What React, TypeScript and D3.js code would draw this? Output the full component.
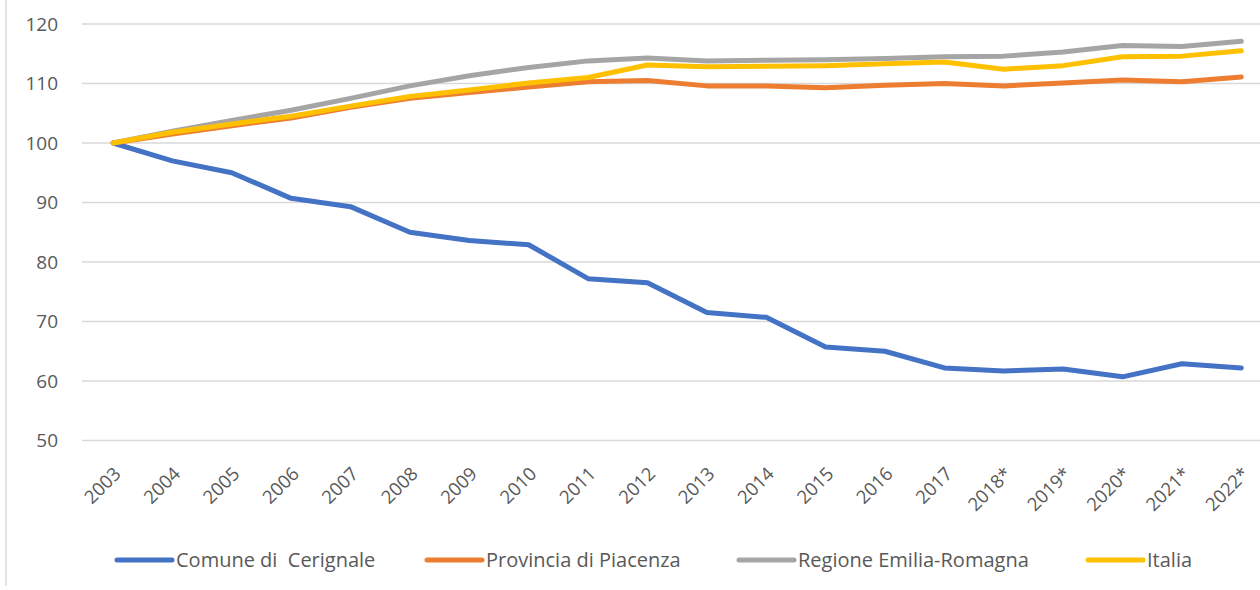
import React from "react";
import * as d3 from "d3";

const years = ["2003","2004","2005","2006","2007","2008","2009","2010","2011","2012","2013","2014","2015","2016","2017","2018*","2019*","2020*","2021*","2022*"];
const cerignale = [100,97.0,95.0,90.7,89.3,85.0,83.6,82.9,77.2,76.5,71.5,70.7,65.7,65.0,62.2,61.7,62.0,60.7,62.9,62.2];
const piacenza = [100,101.5,102.9,104.2,106.0,107.5,108.5,109.4,110.3,110.5,109.6,109.6,109.3,109.7,110.0,109.6,110.1,110.6,110.3,111.1];
const emilia = [100,102.0,103.8,105.5,107.5,109.6,111.3,112.7,113.8,114.3,113.8,113.9,114.0,114.2,114.5,114.6,115.3,116.4,116.2,117.1];
const italia = [100,101.8,103.2,104.5,106.2,107.8,108.9,110.1,111.0,113.1,112.8,112.9,113.0,113.3,113.6,112.4,113.0,114.5,114.6,115.5];
const yTicks = [50,60,70,80,90,100,110,120];

const seriesNames = ["Comune di  Cerignale","Provincia di Piacenza","Regione Emilia-Romagna","Italia"];
const seriesColors = ["#4472C4","#ED7D31","#A5A5A5","#FFC000"];
const seriesData = [cerignale, piacenza, emilia, italia];

const W = 1260, H = 590;
const font = "'Open Sans', sans-serif";

export default function App() {
  const x = d3.scaleBand<string>().domain(years).range([83.3, 1271]);
  const y = d3.scaleLinear().domain([50, 120]).range([440.5, 24]);
  const line = d3.line<number>()
    .x((_, i) => (x(years[i]) as number) + x.bandwidth() / 2)
    .y((d) => y(d));
  const legendX = [117, 427, 739, 1088];
  return (
    <svg width={W} height={H} style={{ position: "absolute", left: 0, top: 0, background: "#fff" }}>
      <line x1={6} x2={6} y1={0} y2={586} stroke="#D9D9D9" strokeWidth={1.5} />
      {yTicks.map((t) => (
        <g key={t}>
          <line x1={82} x2={1271} y1={y(t)} y2={y(t)} stroke="#D9D9D9" strokeWidth={1.3} />
          <text x={58} y={y(t)} dy="0.36em" textAnchor="end" fontFamily={font} fontSize={19} fill="#595959">{t}</text>
        </g>
      ))}
      {years.map((yr) => {
        const cx = (x(yr) as number) + x.bandwidth() / 2;
        const tx = cx + 9, ty = 475;
        return (
          <text key={yr} x={tx} y={ty} transform={`rotate(-45 ${tx} ${ty})`} textAnchor="end"
            fontFamily={font} fontSize={18.5} fill="#595959">{yr}</text>
        );
      })}
      {seriesData.map((s, i) => (
        <path key={i} d={line(s) || ""} fill="none" stroke={seriesColors[i]} strokeWidth={5}
          strokeLinecap="round" strokeLinejoin="round" />
      ))}
      {seriesNames.map((n, i) => (
        <g key={n}>
          <line x1={legendX[i]} x2={legendX[i] + 55} y1={560} y2={560} stroke={seriesColors[i]} strokeWidth={5} strokeLinecap="round" />
          <text x={legendX[i] + 59} y={560} dy="0.36em" fontFamily={font} fontSize={20} fill="#595959" style={{ whiteSpace: "pre" }}>{n}</text>
        </g>
      ))}
    </svg>
  );
}
